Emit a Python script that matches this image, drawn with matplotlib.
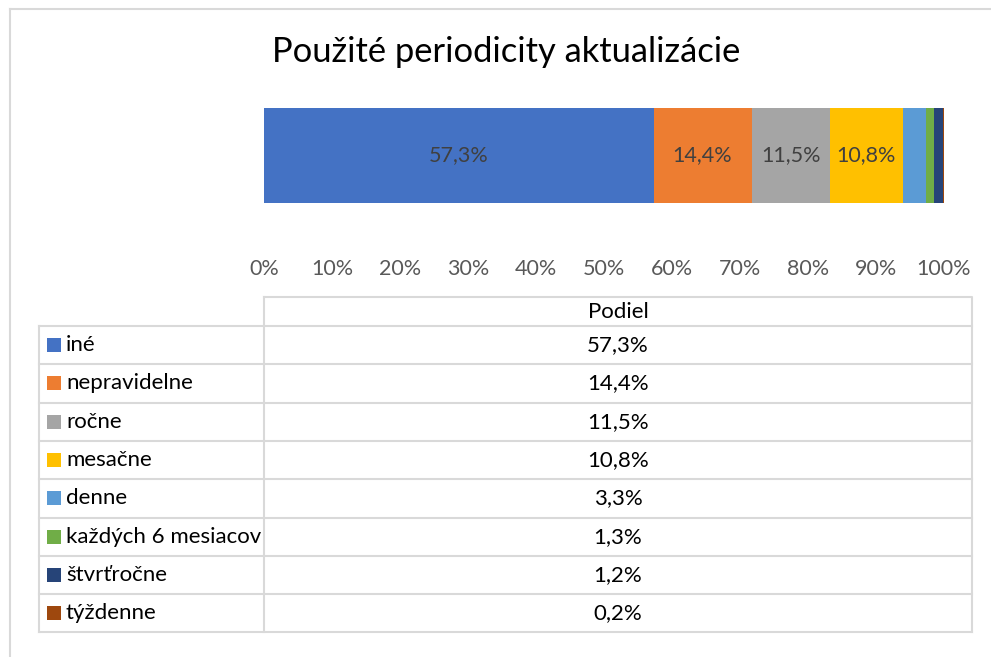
import matplotlib
matplotlib.use("Agg")
import matplotlib.pyplot as plt
from matplotlib.patches import Rectangle

plt.rcParams['font.family'] = ['Lato', 'DejaVu Sans']

categories = ["iné", "nepravidelne", "ročne", "mesačne", "denne",
              "každých 6 mesiacov", "štvrťročne", "týždenne"]
values = [57.3, 14.4, 11.5, 10.8, 3.3, 1.3, 1.2, 0.2]
colors = ["#4472C4", "#ED7D31", "#A5A5A5", "#FFC000", "#5B9BD5",
          "#70AD47", "#264478", "#9E480E"]
xticks = list(range(0, 101, 10))
title = "Použité periodicity aktualizácie"
col_header = "Podiel"

W, H = 991, 657
fig = plt.figure(figsize=(W / 100, H / 100), dpi=100)
fig.patch.set_facecolor("white")

def fx(px):
    return px / W

def fy(py):
    return 1 - py / H

# overlay axes in pixel coords
ov = fig.add_axes([0, 0, 1, 1])
ov.set_xlim(0, W)
ov.set_ylim(H, 0)
ov.axis("off")

# outer chart border (left & top visible)
ov.plot([9.5, 9.5], [8.5, H], color="#D9D9D9", lw=1.5)
ov.plot([9.5, W], [8.5, 8.5], color="#D9D9D9", lw=1.5)

ov.text(506, 52, title, ha="center", va="center", fontsize=24.8, color="#000000")

# bar axes
bx0, bx1, by0, by1 = 264, 944, 108, 203
ax = fig.add_axes([fx(bx0), fy(by1), fx(bx1 - bx0), (by1 - by0) / H])
left = 0
for v, c in zip(values, colors):
    ax.barh(0, v, left=left, height=1.0, color=c, edgecolor="none")
    if v >= 5:
        ax.text(left + v / 2, 0, f"{v:.1f}%".replace(".", ","), ha="center",
                va="center", fontsize=15.5, color="#404040")
    left += v
ax.set_xlim(0, 100)
ax.set_ylim(-0.5, 0.5)
ax.set_yticks([])
ax.set_xticks(xticks)
ax.set_xticklabels([f"{t}%" for t in xticks], fontsize=15.5, color="#595959")
ax.tick_params(axis="x", length=0, pad=40)
for s in ax.spines.values():
    s.set_visible(False)

# data table
grid = "#D9D9D9"
lw = 1.5
tx0, tx1 = 264, 972
lx0 = 39
hy0, hy1 = 297, 326
row_h = 38.3
rows_y = [hy1 + i * row_h for i in range(len(categories) + 1)]
ybot = rows_y[-1]

ov.plot([tx0, tx1, tx1], [hy0, hy0, ybot], color=grid, lw=lw)
ov.plot([tx0, tx0], [hy0, ybot], color=grid, lw=lw)
ov.plot([lx0, lx0], [hy1, ybot], color=grid, lw=lw)
for y in rows_y:
    ov.plot([lx0, tx1], [y, y], color=grid, lw=lw)
ov.text((tx0 + tx1) / 2, (hy0 + hy1) / 2 + 1, col_header, ha="center",
        va="center", fontsize=16, color="#000000")

for i, (cat, v, c) in enumerate(zip(categories, values, colors)):
    yc = rows_y[i] + row_h / 2
    ov.add_patch(Rectangle((47, yc - 7), 14, 14, color=c, lw=0))
    ov.text(66, yc, cat, ha="left", va="center", fontsize=16, color="#000000")
    ov.text((tx0 + tx1) / 2, yc, f"{v:.1f}%".replace(".", ","), ha="center",
            va="center", fontsize=16, color="#000000")

fig.savefig("out.png", dpi=100, facecolor="white")
